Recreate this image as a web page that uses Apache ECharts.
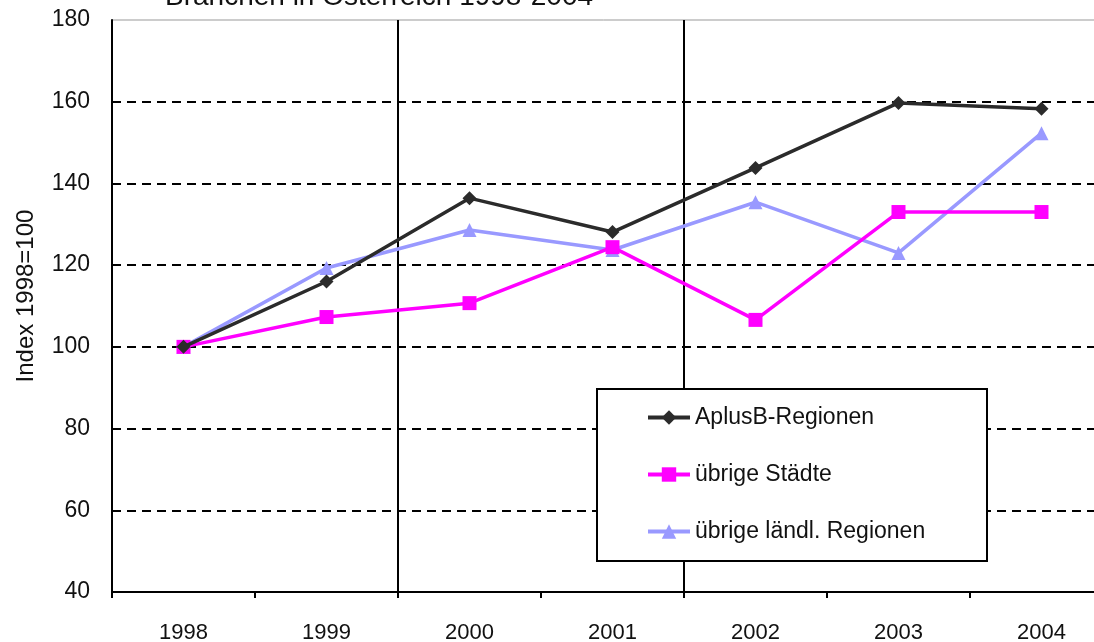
<!DOCTYPE html>
<html>
<head>
<meta charset="utf-8">
<script src="https://cdn.jsdelivr.net/npm/echarts@6/dist/echarts.min.js"></script>
<style>
html,body{margin:0;padding:0;background:#fff;}
#chart{width:1094px;height:642px;}
</style>
</head>
<body>
<div id="chart"></div>
<script>
const years = ['1998','1999','2000','2001','2002','2003','2004'];
const aplusB = [100, 116, 136.4, 128.1, 143.8, 159.7, 158.3];
const staedte = [100, 107.3, 110.7, 124.4, 106.6, 133, 133];
const laendl = [100, 119.3, 128.6, 123.7, 135.4, 123, 152.3];
const seriesNames = ['AplusB-Regionen', 'übrige Städte', 'übrige ländl. Regionen'];
const yTicks = {min: 40, max: 180, interval: 20};
const yName = 'Index 1998=100';
const titleText = 'Branchen in Österreich 1998-2004';

const FONT = '"Liberation Sans", Arial, sans-serif';
const chart = echarts.init(document.getElementById('chart'), null, {renderer: 'canvas'});
chart.setOption({
  animation: false,
  backgroundColor: '#fff',
  textStyle: {fontFamily: FONT, color: '#111'},
  grid: {left: 112, width: 1001, top: 20, bottom: 50, outerBoundsMode: 'none', containLabel: false,
         show: true, borderColor: '#999', borderWidth: 1},
  xAxis: {
    type: 'category',
    data: years,
    boundaryGap: true,
    axisLine: {lineStyle: {color: '#000', width: 2}},
    axisTick: {show: true, interval: 0, length: 6, lineStyle: {color: '#000', width: 2}},
    axisLabel: {fontSize: 22, color: '#111', margin: 30, fontFamily: FONT},
    splitLine: {show: true, interval: function (i) { return i === 2 || i === 4; }, lineStyle: {color: '#000', width: 2, type: 'solid'}}
  },
  yAxis: {
    type: 'value',
    min: yTicks.min, max: yTicks.max, interval: yTicks.interval,
    axisLine: {show: true, lineStyle: {color: '#000', width: 2}},
    axisTick: {show: false},
    axisLabel: {fontSize: 23, color: '#111', margin: 22, fontFamily: FONT},
    splitLine: {show: true, showMaxLine: false, showMinLine: false, lineStyle: {color: '#000', width: 2, type: [9, 6]}}
  },
  legend: {
    orient: 'vertical',
    left: 641, top: 401,
    itemWidth: 42, itemHeight: 18,
    itemGap: 34,
    z: 10,
    lineStyle: {width: 4},
    textStyle: {fontSize: 23, color: '#111', fontFamily: FONT},
    data: seriesNames
  },
  graphic: [
    {type: 'rect', z: 5, shape: {x: 597, y: 389, width: 390, height: 172}, style: {fill: '#fff', stroke: '#000', lineWidth: 2}},
    {type: 'text', z: 5, left: 165, top: -17, style: {text: titleText, fontSize: 28, fontFamily: FONT, fill: '#111'}},
    {type: 'text', z: 5, x: 26, y: 296, rotation: Math.PI / 2,
     style: {text: yName, fontSize: 24, fontFamily: FONT, fill: '#111', align: 'center', verticalAlign: 'middle'}}
  ],
  series: [
    {name: seriesNames[0], type: 'line', data: aplusB, symbol: 'diamond', symbolSize: 14,
     lineStyle: {color: '#2b2b2b', width: 3.5}, itemStyle: {color: '#2b2b2b'}, z: 4},
    {name: seriesNames[1], type: 'line', data: staedte, symbol: 'rect', symbolSize: 14,
     lineStyle: {color: '#ff00ff', width: 3.5}, itemStyle: {color: '#ff00ff'}, z: 3},
    {name: seriesNames[2], type: 'line', data: laendl, symbol: 'triangle', symbolSize: 14,
     lineStyle: {color: '#9999ff', width: 3.5}, itemStyle: {color: '#9999ff'}, z: 2}
  ]
});
</script>
</body>
</html>
